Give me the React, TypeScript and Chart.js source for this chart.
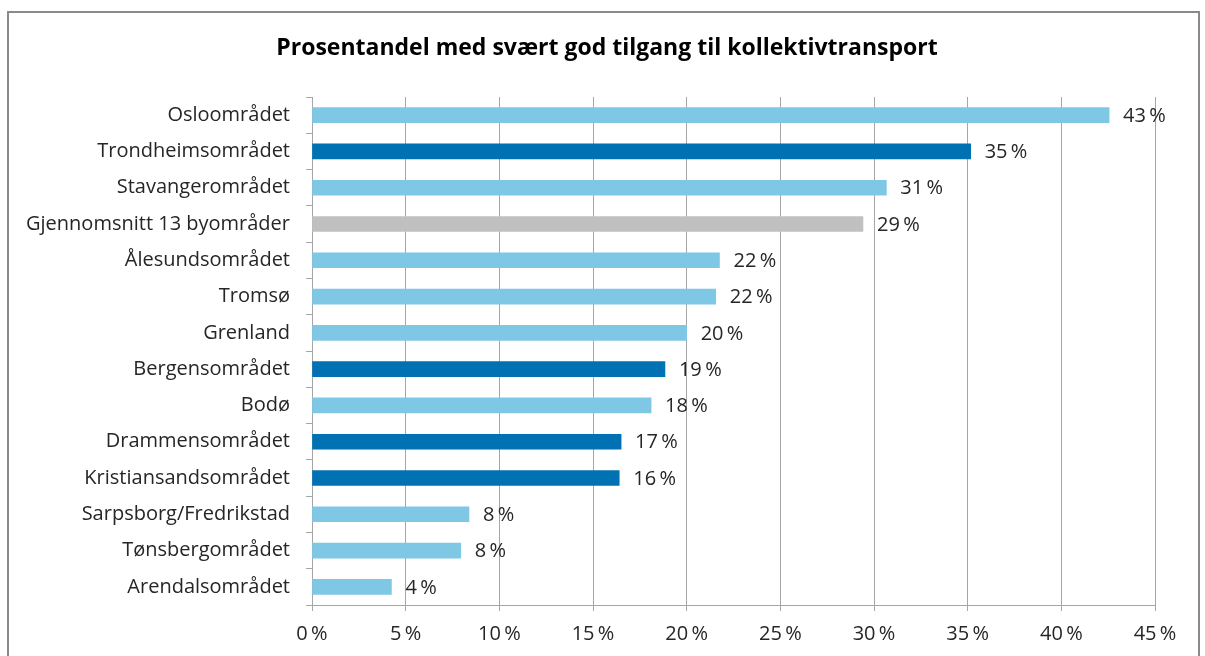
import React, { useEffect, useRef } from "react";
import { Chart, registerables } from "chart.js";

Chart.register(...registerables);

const TITLE = "Prosentandel med svært god tilgang til kollektivtransport";

const categories = [
  "Osloområdet",
  "Trondheimsområdet",
  "Stavangerområdet",
  "Gjennomsnitt 13 byområder",
  "Ålesundsområdet",
  "Tromsø",
  "Grenland",
  "Bergensområdet",
  "Bodø",
  "Drammensområdet",
  "Kristiansandsområdet",
  "Sarpsborg/Fredrikstad",
  "Tønsbergområdet",
  "Arendalsområdet",
];

const values = [42.55, 35.16, 30.66, 29.41, 21.75, 21.55, 20.0, 18.84, 18.1, 16.5, 16.4, 8.38, 7.94, 4.24];

const valueLabels = ["43\u2009%", "35\u2009%", "31\u2009%", "29\u2009%", "22\u2009%", "22\u2009%", "20\u2009%", "19\u2009%", "18\u2009%", "17\u2009%", "16\u2009%", "8\u2009%", "8\u2009%", "4\u2009%"];

// group: 0 = light blue, 1 = dark blue, 2 = average (grey)
const groups = [0, 1, 0, 2, 0, 0, 0, 1, 0, 1, 1, 0, 0, 0];
const groupColors = ["#7EC8E6", "#0071B3", "#C0C0C0"];

const xTicks = [0, 5, 10, 15, 20, 25, 30, 35, 40, 45];

const FONT = "'Open Sans', sans-serif";

export default function App() {
  const ref = useRef<HTMLCanvasElement | null>(null);

  useEffect(() => {
    if (!ref.current) return;
    const frame = {
      id: "frame",
      beforeDraw(chart: any) {
        const ctx = chart.ctx;
        ctx.save();
        ctx.fillStyle = "#ffffff";
        ctx.fillRect(0, 0, chart.width, chart.height);
        ctx.strokeStyle = "#8a8a8a";
        ctx.lineWidth = 2;
        ctx.strokeRect(8, 12, 1191, 700);
        ctx.fillStyle = "#000000";
        ctx.font = `bold 23px ${FONT}`;
        ctx.textAlign = "center";
        ctx.textBaseline = "middle";
        ctx.fillText(TITLE, 607, 48);
        ctx.restore();
      },
    };
    const dataLabels = {
      id: "dataLabels",
      afterDatasetsDraw(chart: any) {
        const ctx = chart.ctx;
        const meta = chart.getDatasetMeta(0);
        ctx.save();
        ctx.fillStyle = "#262626";
        ctx.font = `20px ${FONT}`;
        ctx.textAlign = "left";
        ctx.textBaseline = "middle";
        meta.data.forEach((bar: any, i: number) => {
          ctx.fillText(valueLabels[i], bar.x + 14, bar.y + 1);
        });
        ctx.restore();
      },
    };
    const chart = new Chart(ref.current, {
      type: "bar",
      data: {
        labels: categories,
        datasets: [
          {
            data: values,
            backgroundColor: groups.map((g) => groupColors[g]),
            borderWidth: 0,
            barThickness: 15,
          },
        ],
      },
      options: {
        indexAxis: "y",
        animation: false,
        responsive: false,
        maintainAspectRatio: false,
        layout: { padding: { top: 97, right: 50, left: 0, bottom: 0 } },
        plugins: {
          legend: { display: false },
          title: { display: false },
          tooltip: { enabled: false },
        },
        scales: {
          x: {
            type: "linear",
            min: 0,
            max: 45,
            afterBuildTicks(scale: any) {
              scale.ticks = xTicks.map((v) => ({ value: v }));
            },
            afterFit(scale: any) {
              scale.height = 51;
            },
            grid: {
              color: "#a6a6a6",
              lineWidth: 1,
              tickLength: 6,
              drawTicks: true,
            },
            border: { color: "#a6a6a6", width: 1 },
            ticks: {
              padding: 11,
              color: "#262626",
              font: { family: FONT, size: 20 },
              callback: (v: any) => `${v}\u2009%`,
            },
          },
          y: {
            type: "category",
            afterFit(scale: any) {
              scale.width = 312;
            },
            grid: {
              display: true,
              offset: true,
              drawOnChartArea: false,
              drawTicks: true,
              tickLength: 6,
              color: "#a6a6a6",
            },
            border: { color: "#a6a6a6", width: 1 },
            ticks: {
              padding: 16,
              color: "#262626",
              font: { family: FONT, size: 20 },
              autoSkip: false,
            },
          },
        },
      },
      plugins: [frame, dataLabels],
    });
    return () => chart.destroy();
  }, []);

  return (
    <div style={{ position: "fixed", left: 0, top: 0, width: 1205, height: 656 }}>
      <canvas ref={ref} width={1205} height={656} style={{ display: "block", width: 1205, height: 656 }} />
    </div>
  );
}
